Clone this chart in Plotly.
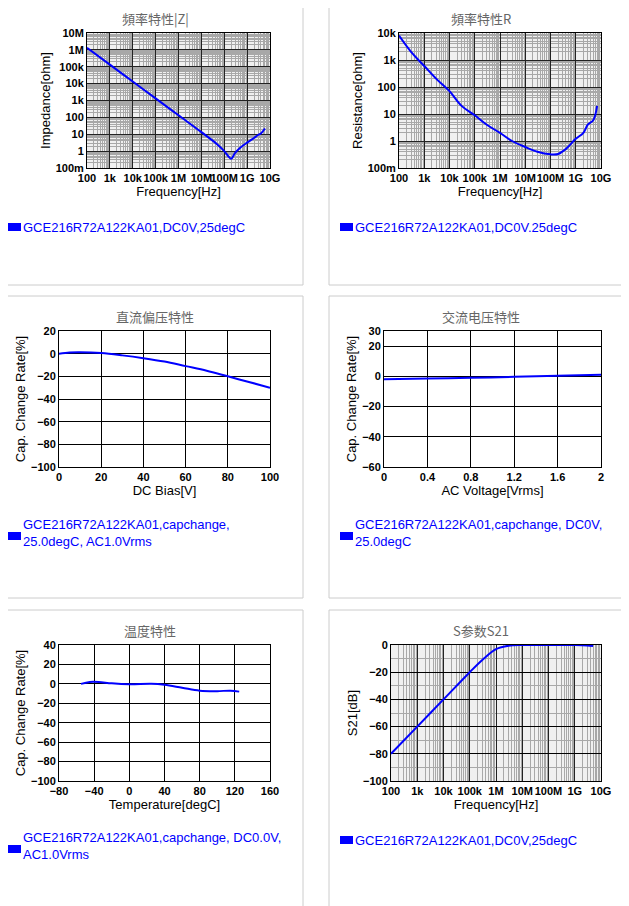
import plotly.graph_objects as go

W, H = 629, 906
OFF = 8  # page body margin

# |Z| vs frequency
z_freq = [100, 1e3, 1e4, 1e5, 1e6, 1e7, 5e7, 1e8, 1.5e8, 2e8, 3e8, 5e8, 1e9, 2e9, 3e9, 4e9, 6e9]
z_ohm = [1.33e6, 1.33e5, 1.33e4, 1330, 133, 13.3, 2.5, 1.0, 0.5, 0.35, 0.8, 1.6, 3.2, 6, 9, 11, 22]

# R vs frequency
r_freq = [100, 300, 1e3, 3e3, 1e4, 3e4, 1e5, 3e5, 1e6, 3e6, 1e7, 3e7, 1e8, 2e8, 4e8, 1e9, 2e9, 3e9, 5e9, 7e9]
r_ohm = [8000, 2000, 600, 200, 70, 20, 9, 4, 2, 1, 0.6, 0.4, 0.32, 0.33, 0.5, 1.2, 2, 4, 6, 20]

# DC bias
dc_v = [0, 5, 10, 20, 30, 40, 50, 60, 70, 80, 90, 100]
dc_rate = [0, 1, 1.2, 0.5, -1.5, -4, -7, -11, -15, -20, -25, -30]

# AC voltage
ac_v = [0, 0.4, 0.8, 1.2, 1.6, 2.0]
ac_rate = [-2, -1.5, -1, -0.3, 0.4, 1]

# temperature
t_deg = [-55, -45, -35, -20, 0, 25, 40, 60, 80, 100, 115, 125]
t_rate = [0, 2, 2, 0.5, -0.5, 0, -1, -4, -7, -7.5, -7, -8]

# S21
s_freq = [100, 1e3, 1e4, 1e5, 3e5, 1e6, 3e6, 1e7, 1e8, 1e9, 3e9, 5e9]
s_db = [-80, -60, -40, -20, -11, -3, -0.5, 0, 0, 0, -0.3, -0.8]

log_vals = [100, 1e3, 1e4, 1e5, 1e6, 1e7, 1e8, 1e9, 1e10]
log_text = ["100", "1k", "10k", "100k", "1M", "10M", "100M", "1G", "10G"]

titles = ["頻率特性|Z|", "頻率特性R", "直流偏压特性", "交流电压特性", "温度特性", "S参数S21"]
legends = ["GCE216R72A122KA01,DC0V,25degC",
           "GCE216R72A122KA01,DC0V.25degC",
           "GCE216R72A122KA01,capchange,<br>25.0degC, AC1.0Vrms",
           "GCE216R72A122KA01,capchange, DC0V,<br>25.0degC",
           "GCE216R72A122KA01,capchange, DC0.0V,<br>AC1.0Vrms",
           "GCE216R72A122KA01,DC0V,25degC"]


def px(x):
    return (x - OFF) / W


def py(y):
    return 1 - (y - OFF) / H


# plot areas in pixels: x0, x1, y0, y1
boxes = [(87, 270, 33, 168), (399, 601, 33, 168),
         (59, 270, 331, 467), (384, 601, 331, 467),
         (59, 270, 645, 781), (391, 601, 645, 781)]
title_x = [155, 481, 155, 481, 150, 481]
title_top = [8, 8, 306, 306, 620, 620]
legend_y = [227, 227, 533, 533, 846, 840]
legend_x = [8, 340, 8, 340, 8, 340]

fig = go.Figure()
series = [(z_freq, z_ohm), (r_freq, r_ohm), (dc_v, dc_rate), (ac_v, ac_rate), (t_deg, t_rate), (s_freq, s_db)]
for i, (x, y) in enumerate(series):
    sfx = "" if i == 0 else str(i + 1)
    fig.add_trace(go.Scatter(x=x, y=y, mode="lines", line=dict(color="#0000ff", width=2, shape="spline"),
                             xaxis="x" + sfx, yaxis="y" + sfx, showlegend=False))

tickfont = dict(family="Liberation Sans", size=11, color="black", weight="bold")
titlefont = dict(family="Liberation Sans", size=13, color="black")
minor_log = dict(dtick="D1", showgrid=True, gridcolor="#a8a8a8", gridwidth=1, ticks="")

layout = {}
for i, (x0, x1, y0, y1) in enumerate(boxes):
    sfx = "" if i == 0 else str(i + 1)
    common = dict(showline=True, linecolor="black", mirror=True, automargin=False,
                  gridcolor="black", gridwidth=1, tickfont=tickfont, ticks="", zeroline=False, tickangle=0)
    layout["xaxis" + sfx] = dict(domain=[px(x0), px(x1)], anchor="y" + sfx,
                                 title=dict(font=titlefont, standoff=0), ticklabelstandoff=0, **common)
    layout["yaxis" + sfx] = dict(domain=[py(y1), py(y0)], anchor="x" + sfx,
                                 title=dict(font=titlefont, standoff=2), ticklabelstandoff=0, **common)

for k in ["xaxis", "xaxis2", "xaxis6"]:
    layout[k].update(type="log", range=[2, 10], tickvals=log_vals, ticktext=log_text, minor=minor_log,
                     title_text="Frequency[Hz]", gridcolor="#222222")
layout["yaxis"].update(type="log", range=[-1, 7], minor=minor_log, gridcolor="#222222",
                       tickvals=[0.1, 1, 10, 100, 1e3, 1e4, 1e5, 1e6, 1e7],
                       ticktext=["100m", "1", "10", "100", "1k", "10k", "100k", "1M", "10M"],
                       title_text="Impedance[ohm]")
layout["yaxis2"].update(type="log", range=[-1, 4], minor=minor_log, gridcolor="#222222",
                        tickvals=[0.1, 1, 10, 100, 1e3, 1e4],
                        ticktext=["100m", "1", "10", "100", "1k", "10k"],
                        title_text="Resistance[ohm]")
layout["xaxis3"].update(range=[0, 100], dtick=20, title_text="DC Bias[V]")
layout["yaxis3"].update(range=[-100, 20], dtick=20, title_text="Cap. Change Rate[%]")
layout["xaxis4"].update(range=[0, 2], dtick=0.4, title_text="AC Voltage[Vrms]")
layout["yaxis4"].update(range=[-60, 30], tickvals=[-60, -40, -20, 0, 20, 30], title_text="Cap. Change Rate[%]")
layout["xaxis5"].update(range=[-80, 160], dtick=40, title_text="Temperature[degC]")
layout["yaxis5"].update(range=[-100, 40], dtick=20, title_text="Cap. Change Rate[%]")
layout["yaxis6"].update(range=[-100, 0], dtick=20, title_text="S21[dB]",
                        minor=dict(dtick=10, showgrid=True, gridcolor="#a8a8a8"))

fig.update_layout(width=W, height=H, margin=dict(l=0, r=0, t=0, b=0), paper_bgcolor="white",
                  plot_bgcolor="#f0f0f0", **layout)

# card frames
cards = [(-2, 303, -2, 285), (329, 640, -2, 285), (-2, 303, 296, 598), (329, 640, 296, 598),
         (-2, 303, 610, 920), (329, 640, 610, 920)]
for (x0, x1, y0, y1) in cards:
    fig.add_shape(type="rect", xref="paper", yref="paper", x0=px(x0), x1=px(x1), y0=py(y1), y1=py(y0),
                  line=dict(color="#cccccc", width=1), layer="below")

for i, (x0, x1, y0, y1) in enumerate(boxes):
    fig.add_annotation(x=px(title_x[i]), y=py(title_top[i]), xref="paper", yref="paper", text=titles[i],
                       xanchor="center", yanchor="top", showarrow=False, borderpad=0,
                       font=dict(family="Noto Sans CJK SC", size=13, color="#666666"))
    two = "<br>" in legends[i]
    fig.add_annotation(x=px(legend_x[i] + 13), y=py(legend_y[i]), xref="paper", yref="paper",
                       xanchor="left", yanchor="middle", align="left", text=legends[i], showarrow=False,
                       font=dict(family="Liberation Sans", size=13, color="#0000ff"))
    fig.add_shape(type="rect", xref="paper", yref="paper", x0=px(legend_x[i]), x1=px(legend_x[i] + 13),
                  y0=py(legend_y[i] + 4 + (3 if two else 0)),
                  y1=py(legend_y[i] - 4 + (3 if two else 0)),
                  fillcolor="#0000ff", line_width=0)

# plain white background for linear panels
for i in [2, 3, 4]:
    x0, x1, y0, y1 = boxes[i]
    fig.add_shape(type="rect", xref="paper", yref="paper", x0=px(x0), x1=px(x1), y0=py(y1), y1=py(y0),
                  fillcolor="white", line_width=0, layer="below")

fig.write_html("out.html")
